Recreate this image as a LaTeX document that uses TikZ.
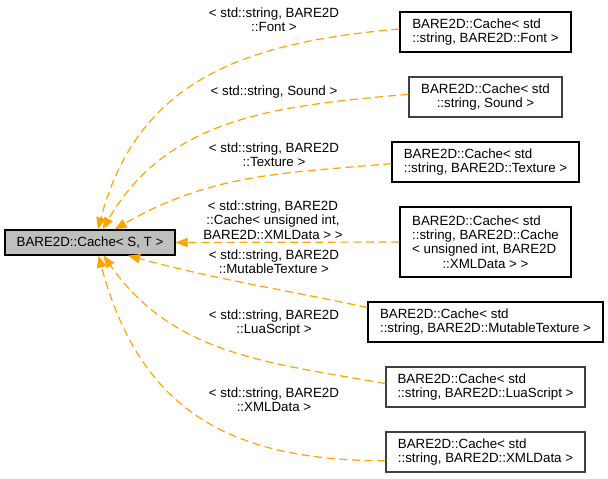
\documentclass[tikz,border=0pt]{standalone}
\usepackage{fontspec}
\setmainfont{Liberation Sans}
\usetikzlibrary{arrows.meta}
\definecolor{inhorange}{RGB}{255,165,0}
\definecolor{basegrey}{RGB}{191,191,191}
\definecolor{boxgrey}{RGB}{64,64,64}

\begin{document}
\begin{tikzpicture}[x=0.75pt,y=0.75pt,
        font=\fontsize{10}{10.8}\selectfont,
        classbox/.style={draw=black,line width=0.9pt,fill=white,align=left,inner sep=0pt,minimum height=30pt},
        basebox/.style={classbox,fill=basegrey,minimum height=18.75pt},
        inh/.style={draw=inhorange,line width=0.9pt,dash pattern=on 6pt off 3.5pt,-{Triangle[length=9pt,width=7pt]}},
        tmpl/.style={align=center,inner sep=0pt}]
        \useasboundingbox (0,0) rectangle (608,-479);

        % Draw the template base class
        \node[basebox,minimum width=127.5pt] (cache) at (90,-242.5) {BARE2D::Cache< S, T >};

        % Draw the instantiations
        \node[classbox,minimum width=128.25pt] (font) at (485.5,-32) {BARE2D::Cache< std\\\hfil::string, BARE2D::Font >};
        \node[classbox,draw=boxgrey,minimum width=114.75pt] (sound) at (485.5,-97) {BARE2D::Cache< std\\\hfil::string, Sound >};
        \node[classbox,minimum width=140.25pt] (texture) at (485.5,-162) {BARE2D::Cache< std\\\hfil::string, BARE2D::Texture >};
        \node[classbox,minimum width=128.25pt,minimum height=52.5pt] (xmlcache) at (485.5,-242) {BARE2D::Cache< std\\::string, BARE2D::Cache\\< unsigned int, BARE2D\\\hfil::XMLData > >};
        \node[classbox,minimum width=176.25pt] (mutable) at (485.5,-322) {BARE2D::Cache< std\\\hfil::string, BARE2D::MutableTexture >};
        \node[classbox,draw=boxgrey,minimum width=149.25pt] (lua) at (485.5,-387) {BARE2D::Cache< std\\\hfil::string, BARE2D::LuaScript >};
        \node[classbox,draw=boxgrey,minimum width=149.25pt] (xml) at (485.5,-452) {BARE2D::Cache< std\\\hfil::string, BARE2D::XMLData >};

        % Label the template arguments
        \node[tmpl] (lfont) at (274,-20) {< std::string, BARE2D\\::Font >};
        \node[tmpl] (lsound) at (274,-92) {< std::string, Sound >};
        \node[tmpl] (ltexture) at (274,-155) {< std::string, BARE2D\\::Texture >};
        \node[tmpl] (lxmlcache) at (273,-220) {< std::string, BARE2D\\::Cache< unsigned int,\\BARE2D::XMLData > >};
        \node[tmpl] (lmutable) at (274,-262) {< std::string, BARE2D\\::MutableTexture >};
        \node[tmpl] (llua) at (274,-323) {< std::string, BARE2D\\::LuaScript >};
        \node[tmpl] (lxml) at (274,-400) {< std::string, BARE2D\\::XMLData >};

        % Draw the inheritance arrows
        \foreach \src/\from/\out/\in/\to/\loose in {font/178/185/75/59/1.1, sound/178/185/60/46/1, texture/181/185/30/28/1, mutable/173/168/-15/-19/1, lua/178/170/-55/-44/1, xml/185/180/-75/-57/1.15} {
            \draw[inh] (\src.\from) to[out=\out,in=\in,looseness=\loose] (cache.\to);
        }
        \draw[inh] (xmlcache.west) -- (cache.east);
    \end{tikzpicture}
\end{document}
